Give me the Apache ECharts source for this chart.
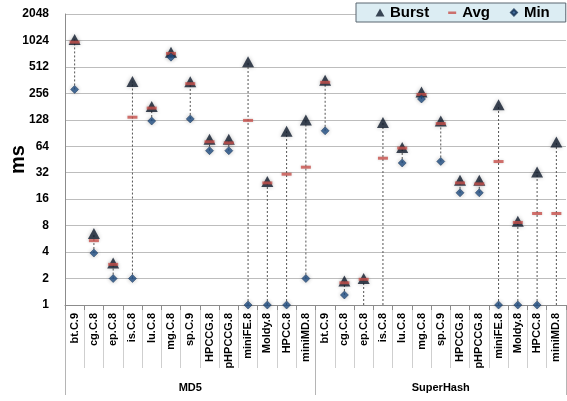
<!DOCTYPE html>
<html>
<head>
<meta charset="utf-8">
<script src="https://cdn.jsdelivr.net/npm/echarts@6/dist/echarts.min.js"></script>
<style>
html,body{margin:0;padding:0;background:#fff;}
#c{width:567px;height:401px;}
</style>
</head>
<body>
<div id="c"></div>
<script>
var benchmarks = ['bt.C.9','cg.C.8','ep.C.8','is.C.8','lu.C.8','mg.C.8','sp.C.9','HPCCG.8','pHPCCG.8','miniFE.8','Moldy.8','HPCC.8','miniMD.8'];
var groups = ['MD5','SuperHash'];
var categories = benchmarks.concat(benchmarks);

var burstValues = [1050, 6.5, 3.0, 350, 181, 754, 348, 77, 77, 587, 25.4, 95, 127,
                   360, 1.87, 2.0, 119, 62, 265, 124, 26.3, 26.3, 190, 9.0, 32.7, 71.6];
var avgValues   = [980, 5.4, 2.9, 137, 174, 729, 330, 72, 70, 126, 24.5, 30.8, 37,
                   342, 1.79, 1.96, 46.8, 61, 249, 116, 24.5, 23.9, 42.9, 8.7, 11, 11];
var minValues   = [284, 3.9, 2.0, 2.0, 124, 661, 131, 57, 57, 1, 1, 1, 2,
                   96, 1.3, 0.5, 0.5, 41.3, 221, 43, 18.9, 18.9, 1, 1, 1, 0.5];
var yTicks = [1, 2, 4, 8, 16, 32, 64, 128, 256, 512, 1024, 2048];

var yMin = yTicks[0], yMax = yTicks[yTicks.length - 1];
var rangeData = categories.map(function (c, i) { return [i, minValues[i], burstValues[i]]; });

var chart = echarts.init(document.getElementById('c'), null, {renderer: 'canvas'});
var font = 'Liberation Sans';
var option = {
  animation: false,
  backgroundColor: '#fff',
  grid: {left: 65, right: 1, top: 14, bottom: 96, outerBoundsMode: 'none', containLabel: false},
  legend: {
    left: 356, top: 3,
    padding: [2, 16, 2, 19],
    itemGap: 18,
    itemWidth: 10, itemHeight: 10,
    backgroundColor: '#dcedf3',
    borderColor: '#5a6670', borderWidth: 1,
    textStyle: {fontFamily: font, fontWeight: 'bold', fontSize: 15, color: '#000'},
    data: [
      {name: 'Burst', icon: 'path://M0,0 M10,10 M5,1 L9.5,9 L0.5,9 Z'},
      {name: 'Avg', icon: 'path://M0,0 M10,10 M1,4 L9,4 L9,6.5 L1,6.5 Z'},
      {name: 'Min', icon: 'path://M0,0 M10,10 M5,2 L8,5 L5,8 L2,5 Z'}
    ]
  },
  xAxis: [
    {
      type: 'category', data: categories, position: 'bottom', z: 5,
      axisLine: {lineStyle: {color: '#8c8c8c', width: 1}},
      axisTick: {show: true, length: 5, interval: 0, lineStyle: {color: '#8c8c8c'}},
      axisLabel: {interval: 0, rotate: 90, margin: 8, fontFamily: font, fontWeight: 'bold', fontSize: 11, color: '#000'},
      splitLine: {show: false}
    },
    {
      type: 'category', data: categories, position: 'bottom', z: 1,
      axisLine: {show: true, lineStyle: {color: 'rgba(0,0,0,0)', width: 0}},
      axisTick: {show: true, length: 63, interval: 0, lineStyle: {color: '#cfcfcf', width: 1}},
      axisLabel: {show: false},
      splitLine: {show: false}
    },
    {
      type: 'category', data: groups, position: 'bottom', z: 1,
      axisLine: {show: true, lineStyle: {color: 'rgba(0,0,0,0)', width: 0}},
      axisTick: {show: true, length: 90, interval: 0, lineStyle: {color: '#b5b5b5', width: 1}},
      axisLabel: {interval: 0, margin: 77, fontFamily: font, fontWeight: 'bold', fontSize: 11, color: '#000'},
      splitLine: {show: false}
    }
  ],
  yAxis: {
    type: 'log', logBase: 2, min: yMin, max: yMax, interval: 1, splitNumber: 11,
    name: 'ms', nameLocation: 'middle', nameGap: 37, nameRotate: 90, nameMoveOverlap: false,
    nameTextStyle: {fontFamily: font, fontWeight: 'bold', fontSize: 20, color: '#000'},
    axisLine: {show: true, lineStyle: {color: '#8c8c8c'}},
    axisTick: {show: false},
    axisLabel: {margin: 16, fontFamily: font, fontWeight: 'bold', fontSize: 12, color: '#000',
                formatter: function (v) { return String(Math.round(v)); }},
    splitLine: {show: true, lineStyle: {color: '#bdbdbd', width: 1}}
  },
  series: [
    {
      type: 'custom', name: 'range', xAxisIndex: 0, silent: true, z: 1,
      encode: {x: 0, y: [1, 2]},
      data: rangeData,
      renderItem: function (params, api) {
        var x = api.value(0);
        var lo = Math.max(api.value(1), yMin);
        var hi = api.value(2);
        var p1 = api.coord([x, lo]);
        var p2 = api.coord([x, hi]);
        return {type: 'line', shape: {x1: p1[0], y1: p1[1], x2: p2[0], y2: p2[1]},
                style: {stroke: '#555', lineWidth: 1, lineDash: [2, 2]}};
      }
    },
    {
      type: 'scatter', name: 'Burst', xAxisIndex: 0, z: 3, clip: true,
      symbol: 'triangle', symbolSize: [12, 11],
      itemStyle: {color: '#0f1a2c', shadowBlur: 4, shadowColor: 'rgba(0,0,0,0.3)'},
      data: burstValues
    },
    {
      type: 'scatter', name: 'Avg', xAxisIndex: 0, z: 4, clip: true,
      symbol: 'rect', symbolSize: [10, 3],
      itemStyle: {color: '#c8504b', shadowBlur: 3, shadowColor: 'rgba(0,0,0,0.2)'},
      data: avgValues
    },
    {
      type: 'scatter', name: 'Min', xAxisIndex: 0, z: 5, clip: true,
      symbol: 'diamond', symbolSize: 8,
      itemStyle: {color: '#1f4f86', borderColor: '#132f52', borderWidth: 0.6, shadowBlur: 4, shadowColor: 'rgba(0,0,0,0.3)'},
      data: minValues
    }
  ]
};
chart.setOption(option);
</script>
</body>
</html>
